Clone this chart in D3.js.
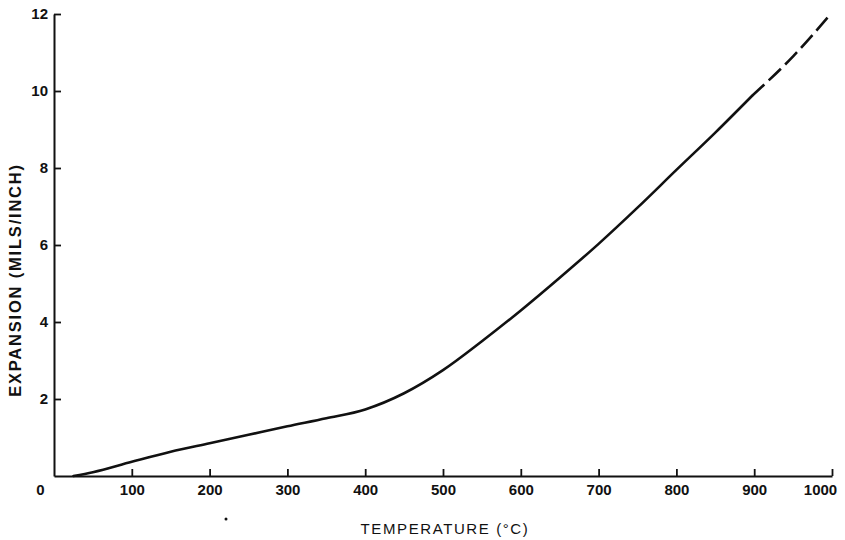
<!DOCTYPE html>
<html>
<head>
<meta charset="utf-8">
<script src="https://cdn.jsdelivr.net/npm/d3@7"></script>
<style>
  body { margin: 0; background: #fff; }
  svg { display: block; }
</style>
</head>
<body>
<script>
// expansion curve
const temps = [25, 50, 100, 150, 200, 250, 300, 350, 400, 450, 500, 550, 600, 650, 700, 750, 800, 850, 897];
const expansion = [0, 0.1, 0.37, 0.63, 0.85, 1.07, 1.29, 1.5, 1.73, 2.15, 2.75, 3.5, 4.3, 5.15, 6.03, 6.97, 7.95, 8.92, 9.87];
// dashed extrapolation at the top
const dashTemps = [897, 950, 997];
const dashExpansion = [9.87, 10.9, 11.97];

const xTicks = [0, 100, 200, 300, 400, 500, 600, 700, 800, 900, 1000];
const yTicks = [2, 4, 6, 8, 10, 12];

const width = 845, height = 540;
const plotLeft = 54, plotBottom = 476, plotRight = 832, plotTop = 14;

const svg = d3.select("body").append("svg")
  .attr("width", width)
  .attr("height", height);

const x = d3.scaleLinear().domain([0, 1000]).range([plotLeft, plotRight]);
const y = d3.scaleLinear().domain([0, 12]).range([plotBottom, plotTop]);

const ink = "#111";
const font = "'Liberation Sans', Arial, sans-serif";

// x axis, ticks pointing up into the plot
const xAxis = svg.append("g")
  .attr("transform", "translate(0," + plotBottom + ")")
  .call(d3.axisBottom(x).tickValues(xTicks).tickFormat(d3.format("d"))
    .tickSizeInner(-7).tickSizeOuter(0).tickPadding(8));
xAxis.select(".domain").attr("stroke", ink).attr("stroke-width", 2);
xAxis.selectAll(".tick line").attr("stroke", ink).attr("stroke-width", 1.8);
xAxis.selectAll(".tick").filter(d => d === 0).select("line").remove();
xAxis.selectAll(".tick text")
  .attr("fill", ink)
  .style("font-family", font)
  .style("font-size", "15px")
  .style("font-weight", "bold")
  .attr("dx", d => d === 0 ? -14 : (d === 1000 ? -12 : 0));

// y axis, ticks pointing right
const yAxis = svg.append("g")
  .attr("transform", "translate(" + plotLeft + ",0)")
  .call(d3.axisLeft(y).tickValues(yTicks).tickSizeInner(-7).tickSizeOuter(0).tickPadding(6));
yAxis.select(".domain").attr("stroke", ink).attr("stroke-width", 2);
yAxis.selectAll(".tick line").attr("stroke", ink).attr("stroke-width", 1.8);
yAxis.selectAll(".tick text")
  .attr("fill", ink)
  .style("font-family", font)
  .style("font-size", "15px")
  .style("font-weight", "bold");

// axis titles
svg.append("text")
  .attr("x", 445)
  .attr("y", 534)
  .attr("text-anchor", "middle")
  .attr("fill", ink)
  .style("font-family", font)
  .style("font-size", "15px")
  .style("letter-spacing", "1.6px")
  .text("TEMPERATURE (°C)");

svg.append("text")
  .attr("transform", "translate(21,280) rotate(-90)")
  .attr("text-anchor", "middle")
  .attr("fill", ink)
  .style("font-family", font)
  .style("font-size", "16.5px")
  .style("font-weight", "bold")
  .style("letter-spacing", "1.8px")
  .text("EXPANSION (MILS/INCH)");

const line = d3.line()
  .x(d => x(d[0]))
  .y(d => y(d[1]))
  .curve(d3.curveMonotoneX);

svg.append("path")
  .datum(d3.zip(temps, expansion))
  .attr("d", line)
  .attr("fill", "none")
  .attr("stroke", ink)
  .attr("stroke-width", 2.6)
  .attr("stroke-linecap", "round");

svg.append("path")
  .datum(d3.zip(dashTemps, dashExpansion))
  .attr("d", line)
  .attr("fill", "none")
  .attr("stroke", ink)
  .attr("stroke-width", 2.6)
  .attr("stroke-dasharray", "17,6");

// speck on the original print
svg.append("circle")
  .attr("cx", 226).attr("cy", 519).attr("r", 1.5)
  .attr("fill", ink);
</script>
</body>
</html>
